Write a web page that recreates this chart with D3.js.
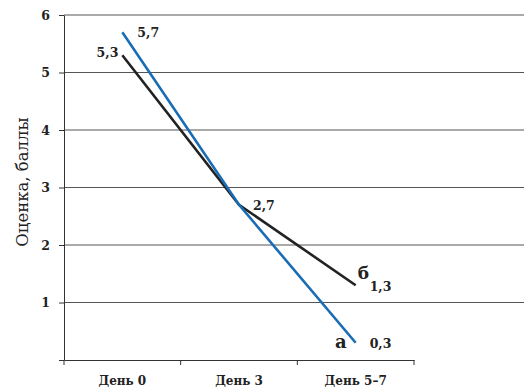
<!DOCTYPE html>
<html><head><meta charset="utf-8">
<script src="https://cdn.jsdelivr.net/npm/d3@7"></script>
<style>body{margin:0;background:#fff}svg{display:block}</style>
</head><body>
<svg id="c" width="524" height="390"></svg>
<script>
const categories = ["День 0", "День 3", "День 5–7"];
const seriesA = [5.7, 2.7, 0.3];
const seriesB = [5.3, 2.7, 1.3];
const yTicks = [1, 2, 3, 4, 5, 6];

(function () {
const svg = d3.select("#c");
const mL = 64, mR = 414, mT = 15, mB = 360;
const x = d3.scaleBand().domain(categories).range([mL, mR]);
const y = d3.scaleLinear().domain([0, 6]).range([mB, mT]);
const cx = c => x(c) + x.bandwidth() / 2;

// gridlines
svg.append("g").selectAll("line").data(yTicks).join("line")
  .attr("x1", mL).attr("x2", 524)
  .attr("y1", d => y(d)).attr("y2", d => y(d))
  .attr("stroke", "#555").attr("stroke-width", 1);

// y axis
const ya = svg.append("g").attr("transform", `translate(${mL},0)`)
  .call(d3.axisLeft(y).tickValues([0, ...yTicks]).tickSize(5).tickSizeOuter(0).tickFormat(d => d === 0 ? "" : d));
ya.select(".domain").attr("stroke", "#333");
ya.selectAll(".tick line").attr("stroke", "#333");
ya.selectAll("text").attr("font-family", "DejaVu Serif").attr("font-weight", "bold")
  .attr("font-size", 12.5).attr("fill", "#222").attr("x", -14);

// x axis
const xa = svg.append("g").attr("transform", `translate(0,${mB})`)
  .call(d3.axisBottom(x).tickSize(0).tickSizeOuter(0));
xa.select(".domain").attr("stroke", "#333");
xa.selectAll(".tick text").attr("font-family", "DejaVu Serif").attr("font-weight", "bold")
  .attr("font-size", 12).attr("fill", "#222").attr("y", 0).attr("dy", 25);
xa.selectAll(".tick line").remove();
const bounds = [mL, ...categories.map(c => x(c) + x.bandwidth())];
xa.selectAll(".xt").data(bounds).join("line").attr("class", "xt")
  .attr("x1", d => d).attr("x2", d => d).attr("y1", 0).attr("y2", 5).attr("stroke", "#333");

// y label
svg.append("text").attr("transform", `translate(28,182) rotate(-90)`)
  .attr("text-anchor", "middle").attr("font-family", "DejaVu Serif").attr("font-size", 16.5)
  .attr("fill", "#222").text("Оценка, баллы");

const line = d3.line().x((d, i) => cx(categories[i])).y(d => y(d));
svg.append("path").datum(seriesB).attr("d", line).attr("fill", "none")
  .attr("stroke", "#222").attr("stroke-width", 2.6);
svg.append("path").datum(seriesA).attr("d", line).attr("fill", "none")
  .attr("stroke", "#1a6db4").attr("stroke-width", 2.6);

const fmt = v => String(v).replace(".", ",");
const lab = (tx, ty, t, anchor, size) => svg.append("text").attr("x", tx).attr("y", ty)
  .attr("text-anchor", anchor || "start").attr("font-family", "DejaVu Serif")
  .attr("font-weight", "bold").attr("font-size", size || 12.5).attr("fill", "#222").text(t);

lab(cx(categories[0]) + 15, y(seriesA[0]) + 5, fmt(seriesA[0]));
lab(cx(categories[0]) - 4, y(seriesB[0]) + 2, fmt(seriesB[0]), "end");
lab(cx(categories[1]) + 14, y(seriesB[1]) + 5, fmt(seriesB[1]));
lab(cx(categories[2]) + 14, y(seriesB[2]) + 6, fmt(seriesB[2]));
lab(cx(categories[2]) + 14, y(seriesA[2]) + 5, fmt(seriesA[2]));
lab(cx(categories[2]) + 2, y(seriesB[2]) - 6, "б", "start", 17);
lab(cx(categories[2]) - 9, y(seriesA[2]) + 5, "а", "end", 18);
})();
</script>
</body></html>
